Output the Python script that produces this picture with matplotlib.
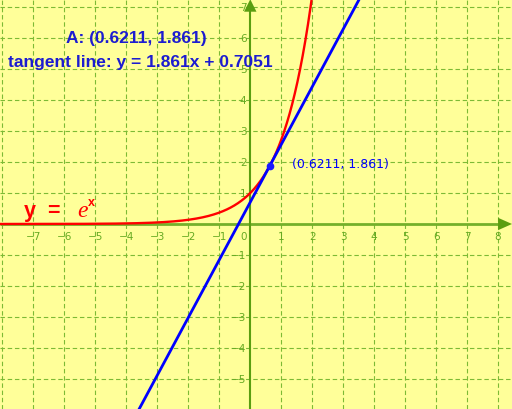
import numpy as np
import matplotlib
matplotlib.use("Agg")
import matplotlib.pyplot as plt
from matplotlib.patches import Polygon

# Data
point_x = 0.6211
point_y = 1.861
slope = 1.861
intercept = 0.7051
x_ticks = [-7, -6, -5, -4, -3, -2, -1, 1, 2, 3, 4, 5, 6, 7, 8]
y_ticks = [-5, -4, -3, -2, -1, 1, 2, 3, 4, 5, 6, 7]
title_a = "A: (0.6211, 1.861)"
title_tangent = "tangent line: y = 1.861x + 0.7051"
point_label = "(0.6211, 1.861)"

xmin, xmax = -8.08, 8.45
ymin, ymax = -5.97, 7.26

fig = plt.figure(figsize=(5.12, 4.10), dpi=100)
ax = fig.add_axes([0, 0, 1, 1])
ax.set_facecolor('#ffff99')
fig.patch.set_facecolor('#ffff99')
ax.set_xlim(xmin, xmax)
ax.set_ylim(ymin, ymax)
for s in ax.spines.values():
    s.set_visible(False)
ax.set_xticks([])
ax.set_yticks([])

grid_col = '#7dba35'
for xv in range(-8, 9):
    if xv != 0:
        ax.axvline(xv, color=grid_col, lw=0.8, ls=(0, (4, 2.5)), zorder=1)
for yv in range(-6, 8):
    if yv != 0:
        ax.axhline(yv, color=grid_col, lw=0.8, ls=(0, (4, 2.5)), zorder=1)

ax.plot([xmin, 8.1], [0, 0], color='#74b02a', lw=2.0, zorder=2, solid_capstyle='butt')
ax.plot([0, 0], [ymin, 7.0], color='#5a9e10', lw=1.5, zorder=2, solid_capstyle='butt')
# arrows
ax.add_patch(Polygon([[8.0, 0.2], [8.0, -0.2], [8.45, 0]], closed=True, color='#5a9e10', zorder=2, lw=0))
ax.add_patch(Polygon([[-0.2, 6.85], [0.2, 6.85], [0, 7.25]], closed=True, color='#5a9e10', zorder=2, lw=0))

lab_col = '#66aa22'
for xv in x_ticks:
    ax.text(xv, -0.4, f"\u2212{abs(xv)}" if xv < 0 else str(xv), color=lab_col,
            fontsize=7.5, ha='center', va='center', zorder=3)
for yv in y_ticks:
    ax.text(-0.12, yv, f"\u2212{abs(yv)}" if yv < 0 else str(yv), color=lab_col,
            fontsize=7.5, ha='right', va='center', zorder=3)
ax.text(-0.22, -0.4, "0", color=lab_col, fontsize=7.5, ha='center', va='center', zorder=3)

# curve y = e^x
xs = np.linspace(xmin, 2.1, 600)
ax.plot(xs, np.exp(xs), color='#ff0000', lw=1.7, zorder=4)
# tangent line
xl = np.array([xmin, xmax])
ax.plot(xl, slope * xl + intercept, color='#0000ff', lw=2.0, zorder=5)
# point
ax.plot([point_x], [point_y], 'o', color='#1a1aff', ms=4.5, zorder=6)
ax.text(1.36, 1.94, point_label, color='#0000ff', fontsize=9, ha='left', va='center', zorder=6)

ax.text(-3.69, 6.02, title_a, color='#1c1cd0', fontsize=12.5, fontweight='bold',
        family='Liberation Sans', ha='center', va='center', zorder=7)
ax.text(-7.82, 5.25, title_tangent, color='#1c1cd0', fontsize=12.5, fontweight='bold',
        family='Liberation Sans', ha='left', va='center', zorder=7)

# y = e^x label
ax.text(-7.3, 0.45, "y", color='#ff0000', fontsize=15.5, fontweight='bold',
        family='Liberation Sans', ha='left', va='center', zorder=7)
ax.text(-6.56, 0.45, "=", color='#ff0000', fontsize=15.5, fontweight='bold',
        family='Liberation Sans', ha='left', va='center', zorder=7)
ax.text(-5.6, 0.45, "e", color='#ff0000', fontsize=17, style='italic',
        family='Liberation Serif', ha='left', va='center', zorder=7)
ax.text(-5.25, 0.72, "x", color='#ff0000', fontsize=9, fontweight='bold',
        family='Liberation Sans', ha='left', va='center', zorder=7)

fig.savefig('out.png', dpi=100, facecolor=fig.get_facecolor())
